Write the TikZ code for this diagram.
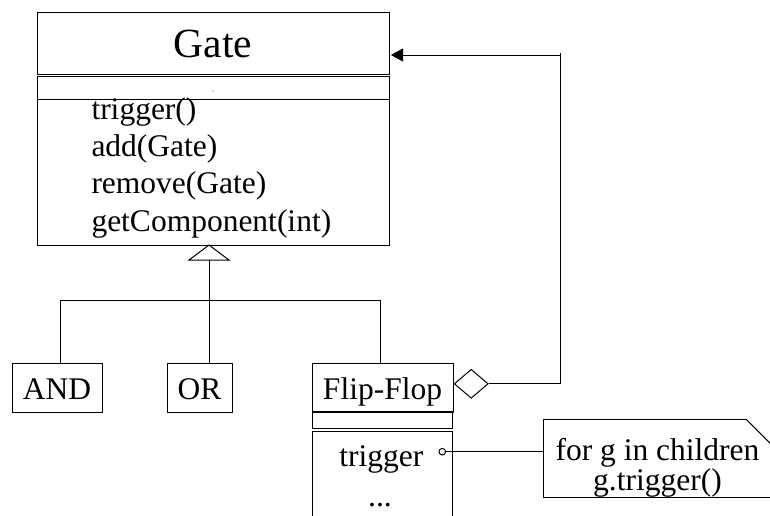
\documentclass[tikz,border=0pt]{standalone}
\usepackage{fontspec}
\setmainfont{Liberation Serif}
\usetikzlibrary{arrows.meta,shapes.geometric}
\begin{document}
\begin{tikzpicture}[x=1pt,y=-1pt,line width=1pt,
  box/.style={draw,rectangle,inner sep=0pt},
  txt/.style={font=\fontsize{31.5}{36}\selectfont},
  lbl/.style={txt,inner sep=0pt,anchor=base},
  leaf/.style={box,txt,minimum height=49pt,text height=31pt,text depth=7pt},
  navarrow/.style={-{Triangle[length=12pt,width=13pt]},shorten >=1.5pt}]
\useasboundingbox (0,0) rectangle (770,515);

% class Gate: name, attributes, operations
\node[box,minimum width=352pt,minimum height=62pt] (gateTitle) at (213,43) {};
\node[box,minimum width=352pt,minimum height=22.5pt] (gateAttr) at (213,87.75) {};
\node[box,minimum width=352pt,minimum height=146pt] (gateOps) at (213,172) {};
\node[lbl,font=\fontsize{41.5}{48}\selectfont] (gateName) at (213,57) {Gate};
\fill[black!60] (213,91) circle (0.6pt);
\node[lbl,anchor=base west] (opTrigger) at (91,119) {trigger()};
\node[lbl,anchor=base west] (opAdd) at (91,156.3) {add(Gate)};
\node[lbl,anchor=base west] (opRemove) at (91,193.7) {remove(Gate)};
\node[lbl,anchor=base west] (opGet) at (91,231) {getComponent(int)};

% subclasses
\node[leaf,minimum width=90pt] (andBox) at (57,387.5) {AND};
\node[leaf,minimum width=65pt] (orBox) at (199.5,387.5) {OR};
\node[leaf,minimum width=141pt] (ffBox) at (382.5,387.5) {Flip-Flop};
\node[box,minimum width=140.5pt,minimum height=16.5pt] (ffAttr) at (382.3,420.2) {};
\node[box,minimum width=140.5pt,minimum height=100pt,anchor=north] (ffOps) at (382.3,430.5) {};
\node[lbl] (ffTrigger) at (381.3,466) {trigger};
\node[lbl] (ffMore) at (380,506) {...};

% generalization
\coordinate (genTip) at (209,245);
\coordinate (genBase) at (209,260);
\coordinate (genBus) at (209,300.5);
\draw[fill=white] (genTip) -- ++(-20,15) -- ++(40,0) -- cycle;
\draw (orBox.north -| genBase) -- (genBase);
\draw ([xshift=3.7pt]andBox.north) |- (genBus) -| ([xshift=-1.8pt]ffBox.north);

% aggregation of children
\node[diamond,draw,minimum width=34pt,minimum height=29pt,inner sep=0pt] (agg) at (471.2,383.8) {};
\coordinate (turn) at (560,55);
\draw (agg.east) -| ([yshift=2pt]turn);
\draw[navarrow] (turn) -- (turn -| gateTitle.east);

% note attached to trigger
\node[draw,circle,minimum size=6.6pt,inner sep=0pt] (trigPin) at (442.3,451.7) {};
\node[minimum width=228pt,minimum height=77.3pt,inner sep=0pt] (note) at (658,458.7) {};
\draw ([xshift=-26pt]note.north east) -- (note.north west) -- (note.south west) -- (note.south east);
\draw ([xshift=-26pt]note.north east) -- ([yshift=-26pt]note.north east);
\node[txt,inner sep=0pt,align=center,font=\fontsize{31.5}{27}\selectfont,anchor=base]
  (noteText) at (657.5,490) {for g in children\\g.trigger()};
\draw (trigPin.east) -- (note.west |- trigPin);
\end{tikzpicture}
\end{document}
